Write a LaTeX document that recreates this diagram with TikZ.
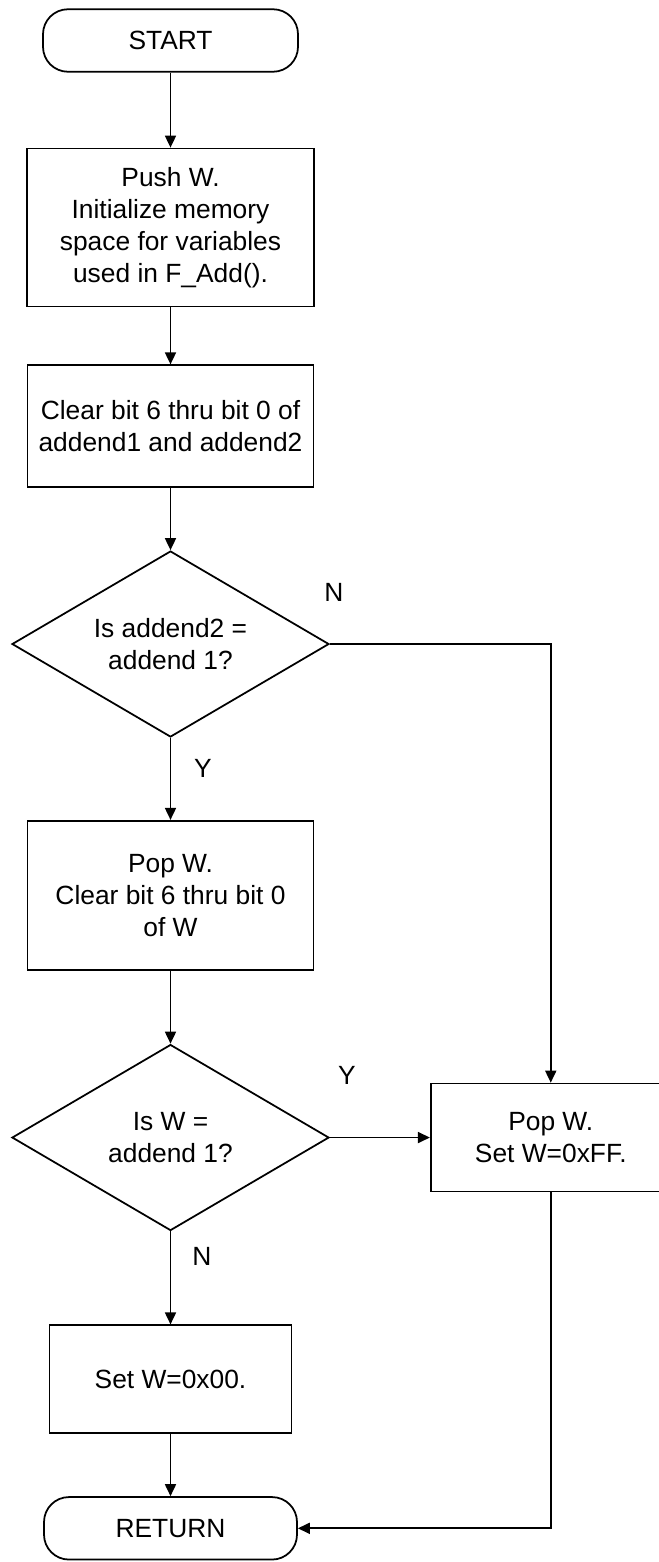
\documentclass[tikz,border=0pt]{standalone}
\usepackage{fontspec}
\setmainfont{Liberation Sans}
\usepackage{tikz}
\usetikzlibrary{arrows.meta,calc,positioning,shapes.geometric}
\newcommand{\chartfont}{\fontsize{15}{18.2}\selectfont}
\tikzset{
  >={Triangle[length=2.4mm,width=2.2mm]},
  flow/.style={->,line width=1pt,draw=black},
  box/.style={draw,line width=1pt,align=center,minimum width=5.72cm,
    inner sep=3pt,font=\chartfont},
  termbox/.style={draw,line width=1pt,rounded corners=0.5cm,
    minimum width=5.1cm,minimum height=1.25cm,font=\chartfont},
  decbox/.style={draw,diamond,line width=1pt,align=center,shape aspect=1.7,
    minimum width=6.34cm,minimum height=3.72cm,inner sep=0pt,font=\chartfont},
  lbl/.style={font=\chartfont,inner sep=0pt}
}

\begin{document}
\begin{tikzpicture}
    \useasboundingbox (0,0) rectangle (13.16,-31.24);
    \node[termbox] (start) at (3.41,-0.81) {START};
    \node[box,minimum height=3.16cm,minimum width=5.74cm,below=1.5cm of start] (push) {Push W.\\Initialize memory\\space for variables\\used in F\_Add().};
    \node[box,minimum height=2.44cm,below=1.14cm of push] (clear) {Clear bit 6 thru bit 0 of\\addend1 and addend2};
    \node[decbox,below=1.24cm of clear] (cmpadd) {Is addend2 =\\addend 1?};
    \node[box,minimum height=2.98cm,below=1.64cm of cmpadd] (popclr) {Pop W.\\Clear bit 6 thru bit 0\\of W};
    \node[decbox,below=1.46cm of popclr] (cmpw) {Is W =\\addend 1?};
    \node[box,minimum height=2.16cm,minimum width=4.84cm,below=1.86cm of cmpw] (setzero) {Set W=0x00.};
    \node[termbox,minimum width=5.06cm,below=1.24cm of setzero] (ret) {RETURN};
    \node[box,minimum height=2.16cm,minimum width=4.8cm,right=2cm of cmpw] (setff) {Pop W.\\Set W=0xFF.};
    \node[lbl] (nlab1) at ($(cmpadd.east)+(0.08,1.04)$) {N};
    \node[lbl] (ylab1) at ($(cmpadd.south)+(0.65,-0.62)$) {Y};
    \node[lbl] (ylab2) at ($(cmpw.east)+(0.34,1.24)$) {Y};
    \node[lbl] (nlab2) at ($(cmpw.south)+(0.63,-0.5)$) {N};
    \draw[flow] (start) -- (push);
    \draw[flow] (push) -- (clear);
    \draw[flow] (clear) -- (cmpadd);
    \draw[flow] (cmpadd) -- (popclr);
    \draw[flow] (popclr) -- (cmpw);
    \draw[flow] (cmpw) -- (setzero);
    \draw[flow] (setzero) -- (ret);
    \draw[flow] (cmpadd.east) -| (setff.north);
    \draw[flow] (cmpw.east) -- (setff.west);
    \draw[flow] (setff.south) |- (ret.east);
  \end{tikzpicture}
\end{document}
